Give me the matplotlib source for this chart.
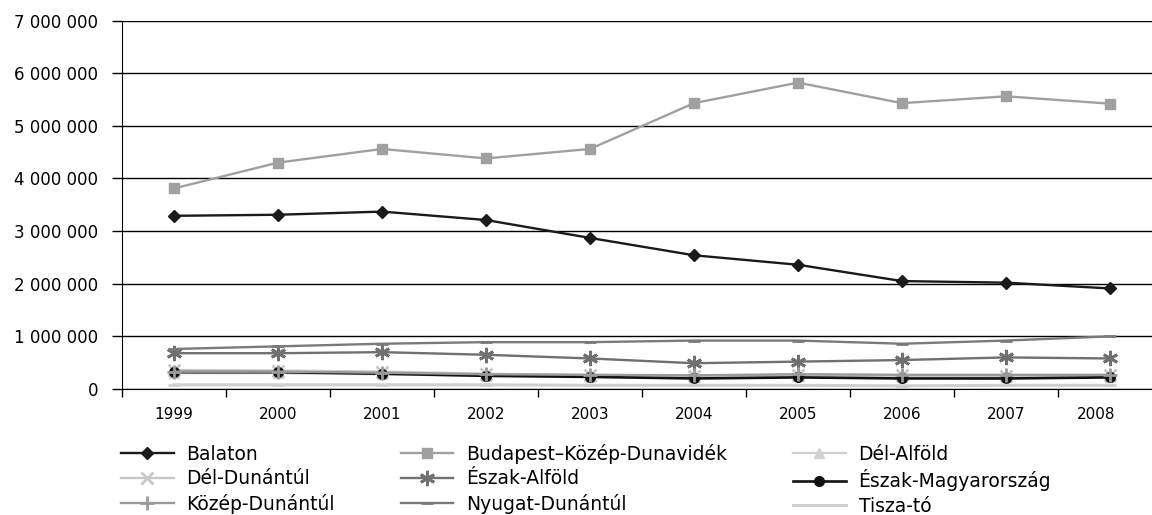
import numpy as np
import matplotlib.pyplot as plt
from matplotlib.ticker import FuncFormatter, FixedLocator
from matplotlib.transforms import ScaledTranslation

plt.rcParams['font.family'] = ['DejaVu Sans']

years = ['1999', '2000', '2001', '2002', '2003', '2004', '2005', '2006', '2007', '2008']

# vendégéjszakák száma, millió
balaton = [3.29, 3.31, 3.37, 3.21, 2.87, 2.54, 2.36, 2.05, 2.02, 1.91]
budapest = [3.81, 4.30, 4.56, 4.38, 4.56, 5.43, 5.82, 5.43, 5.56, 5.42]
del_alfold = [0.30, 0.30, 0.28, 0.25, 0.23, 0.22, 0.24, 0.23, 0.22, 0.23]
del_dunantul = [0.36, 0.35, 0.33, 0.29, 0.26, 0.25, 0.27, 0.26, 0.25, 0.26]
eszak_alfold = [0.68, 0.68, 0.70, 0.65, 0.58, 0.49, 0.52, 0.55, 0.60, 0.58]
eszak_magyar = [0.32, 0.32, 0.29, 0.25, 0.23, 0.20, 0.22, 0.20, 0.20, 0.22]
kozep_dunantul = [0.33, 0.33, 0.31, 0.28, 0.27, 0.26, 0.28, 0.27, 0.27, 0.27]
nyugat_dunantul = [0.76, 0.81, 0.86, 0.89, 0.89, 0.92, 0.92, 0.86, 0.92, 1.00]
tisza_to = [0.08, 0.08, 0.08, 0.08, 0.07, 0.07, 0.07, 0.06, 0.07, 0.07]

series = [
    ('Balaton', balaton, '#1a1a1a', 'D', 6, 1.7),
    ('Budapest–Közép-Dunavidék', budapest, '#a0a0a0', 's', 7, 1.7),
    ('Dél-Alföld', del_alfold, '#d0d0d0', '^', 7, 1.7),
    ('Dél-Dunántúl', del_dunantul, '#c8c8c8', 'x', 8, 1.7),
    ('Észak-Alföld', eszak_alfold, '#707070', (6, 2, 0), 11, 1.7),
    ('Észak-Magyarország', eszak_magyar, '#111111', 'o', 7, 1.9),
    ('Közép-Dunántúl', kozep_dunantul, '#9a9a9a', '+', 10, 1.7),
    ('Nyugat-Dunántúl', nyugat_dunantul, '#7a7a7a', '_', 9, 1.7),
    ('Tisza-tó', tisza_to, '#cfcfcf', '_', 9, 2.2),
]

fig = plt.figure(figsize=(11.52, 5.15), dpi=100)
# a rajzterület jobb széle kilóg a képből (kb. 1162 px-ig)
ax = fig.add_axes([122/1152, 1 - 389/515, 1040/1152, (389 - 20.5)/515])

x = np.arange(len(years))
handles = []
for name, vals, col, mk, ms, lw in series:
    h, = ax.plot(x, np.array(vals) * 1e6, color=col, marker=mk, markersize=ms,
                 linewidth=lw, markeredgewidth=2 if mk in ('x', '+', '_', (6, 2, 0)) else 1,
                 label=name)
    handles.append(h)

ax.set_xlim(-0.5, len(years) - 0.5)
ax.set_ylim(0, 7e6)
ax.set_yticks(np.arange(0, 7e6 + 1, 1e6))
ax.yaxis.set_major_formatter(FuncFormatter(lambda v, p: f'{int(v):,}'.replace(',', ' ')))
ax.set_xticks(x)
ax.set_xticklabels(years)
ax.xaxis.set_minor_locator(FixedLocator(np.arange(-0.5, len(years), 1.0)))
ax.tick_params(axis='x', which='major', length=0, pad=13, labelsize=11)
ax.tick_params(axis='x', which='minor', length=6, width=1, direction='out')
ax.tick_params(axis='y', length=7, width=1, labelsize=12, pad=10)
ax.grid(axis='y', color='black', linewidth=1)
ax.set_axisbelow(True)
for s in ['top', 'right']:
    ax.spines[s].set_visible(False)
ax.spines['left'].set_color('black')
ax.spines['bottom'].set_color('black')

# az utolsó évszám kicsit balra tolva, mint az eredetin
last = ax.get_xticklabels()[-1]
last.set_transform(last.get_transform() + ScaledTranslation(-0.14, 0, fig.dpi_scale_trans))

# jelmagyarázat: 3 oszlop, soronkénti sorrend
order = [0, 3, 6, 1, 4, 7, 2, 5, 8]
hs = [handles[i] for i in order]
fig.legend(hs, [h.get_label() for h in hs], loc='upper left', ncol=3,
           bbox_to_anchor=(121/1152, 1 - 444/515), frameon=False,
           fontsize=13.5, handlelength=2.8, handletextpad=0.7,
           columnspacing=3.5, labelspacing=0.28, borderaxespad=0, borderpad=0)

plt.savefig('out.png', dpi=100)
